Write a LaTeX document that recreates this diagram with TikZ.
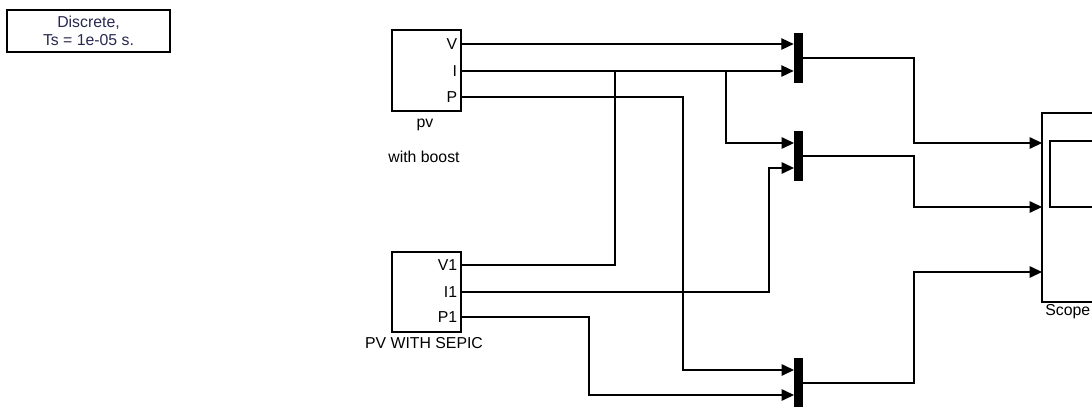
\documentclass[tikz,border=0pt]{standalone}
\usepackage{fontspec}
\setmainfont{Liberation Sans}
\usetikzlibrary{arrows.meta}
\newcommand{\blkfont}{\fontsize{9}{10.5}\selectfont}
\definecolor{guitext}{RGB}{40,40,80}
\tikzset{
  block/.style={draw, line width=0.7pt, inner sep=0pt, minimum width=1.38cm},
  muxbar/.style={fill=black, inner sep=0pt, minimum width=0.18cm, minimum height=1cm},
  sig/.style={line width=0.7pt, -{Triangle[length=7pt,width=6.5pt]}},
  wire/.style={line width=0.7pt},
  portlbl/.style={anchor=east, inner sep=2pt, font=\blkfont},
  caption/.style={font=\blkfont, inner sep=0pt}
}
\begin{document}
\begin{tikzpicture}[x=0.02cm, y=-0.02cm]
  \useasboundingbox (0,0) rectangle (1092,406);
  \clip (0,0) rectangle (1092,406);
  % Solver block
  \node[draw, line width=0.7pt, minimum width=3.26cm, minimum height=0.84cm,
        align=center, font=\blkfont, text=guitext] (gui) at (88.5,31)
        {Discrete,\\Ts = 1e-05 s.};
  % Sources
  \node[block, minimum height=1.62cm] (pv) at (426.5,70.5) {};
  \node[block, minimum height=1.60cm] (sepic) at (426.5,292) {};
  \node[caption] (pvname) at (425,125) {pv};
  \node[caption] (pvnote) at (424,157) {with boost};
  \node[caption] (sepicname) at (424,343) {PV WITH SEPIC};
  % Ports
  \foreach \name/\y/\txt in {pvV/44/V, pvI/71/I, pvP/97/P, spV/265/V1, spI/292/I1, spP/317/P1} {
    \coordinate (\name) at (461,\y);
    \node[portlbl] at (\name) {\txt};
  }
  % Mux bars
  \node[muxbar] (muxA) at (798.5,58) {};
  \node[muxbar] (muxB) at (798.5,156) {};
  \node[muxbar] (muxC) at (798.5,383) {};
  \coordinate (inB1) at (794,143);
  \coordinate (inB2) at (794,168);
  \coordinate (inC1) at (794,370);
  \coordinate (inC2) at (794,395);
  % Scope
  \node[block, minimum width=1.52cm, minimum height=3.78cm] (scope) at (1080,207.5) {};
  \draw[wire] (1050,141) rectangle (1110,207);
  \node[caption, anchor=west] (scopename) at (1045,312) {Scope};
  \coordinate (sc1) at (1042,143);
  \coordinate (sc2) at (1042,207);
  \coordinate (sc3) at (1042,272);
  % Wires into the muxes
  \draw[sig] (pvV) -- (pvV -| muxA.west);
  \draw[sig] (pvI) -- (pvI -| muxA.west);
  \draw[sig] (pvI -| 726,0) |- (inB1);
  \draw[wire] (spV) -| (pvI -| 615,0);
  \draw[sig] (pvP) -| (inC1 -| 683,0) -- (inC1);
  \draw[sig] (spI) -| (inB2 -| 769,0) -- (inB2);
  \draw[sig] (spP) -| (inC2 -| 589,0) -- (inC2);
  % Mux outputs to scope
  \draw[sig] (muxA.east) -| (sc1 -| 914,0) -- (sc1);
  \draw[sig] (muxB.east) -| (sc2 -| 914,0) -- (sc2);
  \draw[sig] (muxC.east) -| (sc3 -| 914,0) -- (sc3);
\end{tikzpicture}
\end{document}
